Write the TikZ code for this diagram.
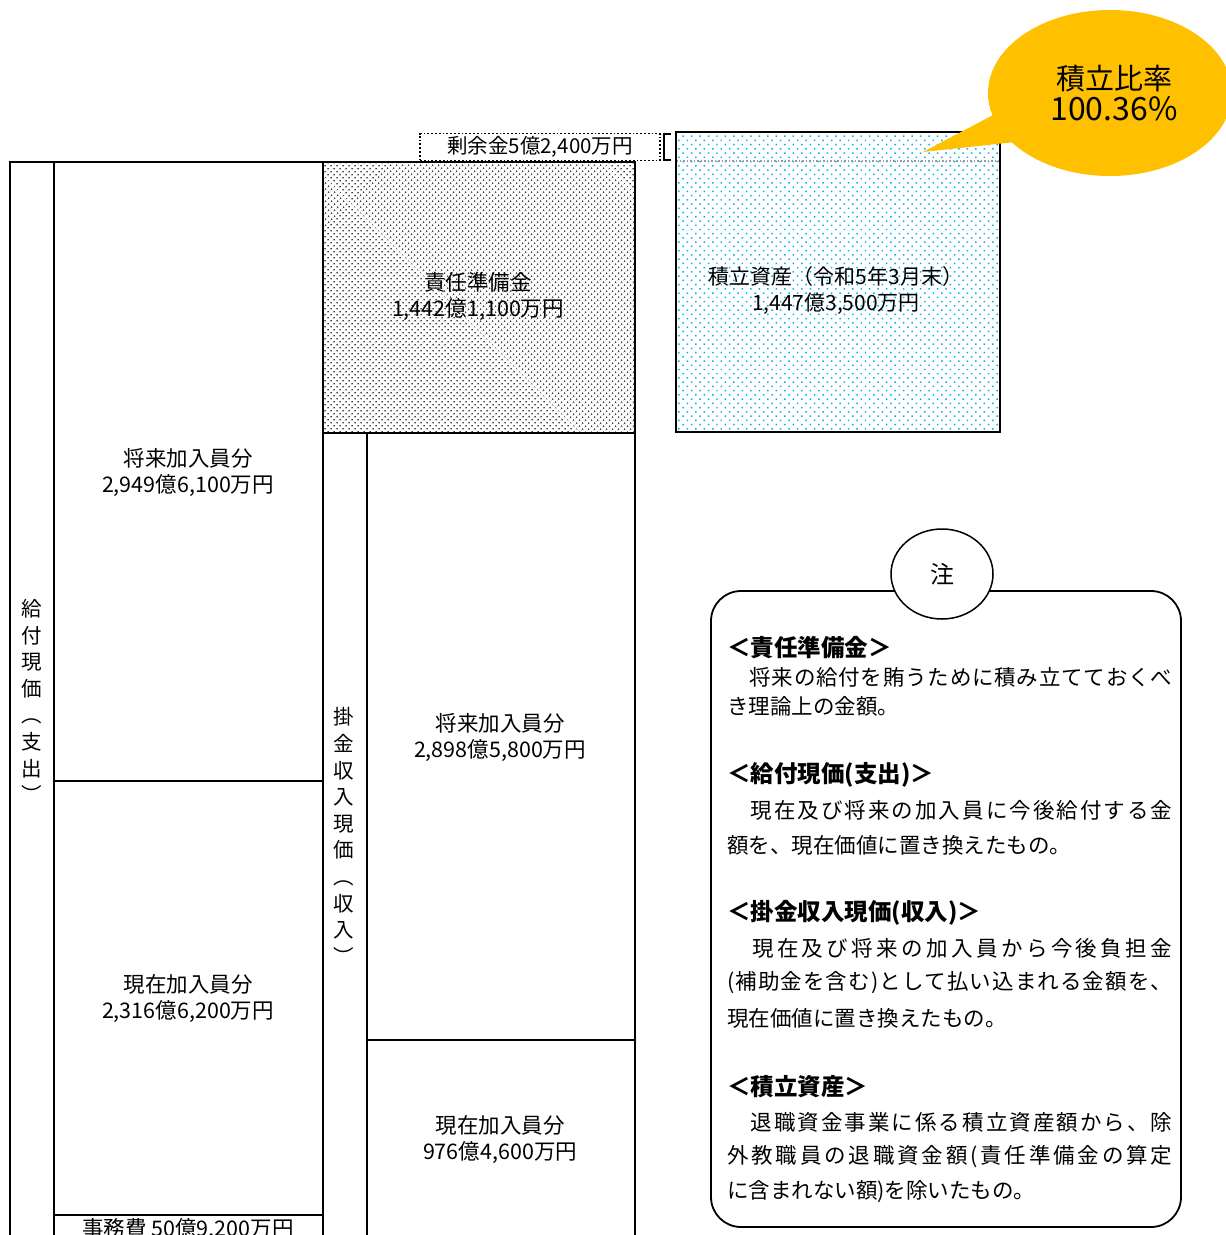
\documentclass[tikz,border=0pt]{standalone}
\usepackage{fontspec}
\setmainfont{Noto Sans CJK JP}
\usetikzlibrary{patterns.meta,shapes.geometric}

\definecolor{bubbleyellow}{RGB}{255,192,0}
\definecolor{dotblue}{RGB}{0,176,240}

% stretch one line of notes to a fixed width
\ExplSyntaxOn
\newcommand\spreadline[2]{\hbox_to_wd:nn {#1} {\tl_map_inline:nn {#2} {##1\hfil} \unskip}}
\ExplSyntaxOff

\tikzset{
  frame/.style={line width=1.8pt},
  lbl/.style={align=center, inner sep=0pt, font=\fontsize{21.5}{26}\selectfont},
  vlbl/.style={align=center, inner sep=0pt, font=\fontsize{20.5}{26.6}\selectfont},
  notehead/.style={anchor=west, inner sep=0pt, font=\fontsize{23.5}{26}\selectfont\bfseries},
  notetext/.style={anchor=west, inner sep=0pt, font=\fontsize{21.5}{26}\selectfont},
}

\begin{document}
\begin{tikzpicture}[x=1pt, y=-1pt]
  % page frame
  \useasboundingbox (0,0) rectangle (1226,1235);
  \clip (0,0) rectangle (1226,1235);

  % shaded areas
  \fill[pattern={Dots[distance=4pt, radius=0.95pt, angle=45]}, pattern color=black!75] (323,162) rectangle (635,433);
  \fill[pattern={Dots[distance=6pt, radius=1.05pt, angle=45]}, pattern color=dotblue] (676,132) rectangle (1000,432);

  % expenditure side
  \draw[frame] (10,1235) -- (10,162) -- (635,162) -- (635,1235);
  \draw[frame] (54,162) -- (54,1235);
  \draw[frame] (323,162) -- (323,1235);
  \draw[frame] (54,781) -- (323,781);
  \draw[frame] (54,1215) -- (323,1215);

  % income side
  \draw[frame] (323,433) -- (635,433);
  \draw[frame] (367,433) -- (367,1235);
  \draw[frame] (367,1040) -- (635,1040);

  % assets box
  \draw[gray!80, line width=1.5pt, dotted] (676,161) -- (1000,161);
  \draw[line width=2.8pt] (676,132) rectangle (1000,432);

  % surplus
  \node[draw, dotted, line width=1.8pt, minimum width=240pt, minimum height=27pt, inner sep=0pt, font=\fontsize{20.5}{22}\selectfont] (surplus) at (540,147) {剰余金5億2,400万円};
  \draw[line width=2.4pt] (671,134) -- (664,134) -- (664,160) -- (671,160);

  % box labels
  \node[lbl] (future) at (188,472) {将来加入員分\\2,949億6,100万円};
  \node[lbl] (current) at (188,998) {現在加入員分\\2,316億6,200万円};
  \node[lbl] (admin) at (188,1229) {事務費 50億9,200万円};
  \node[lbl] (reserve) at (478,296) {責任準備金\\1,442億1,100万円};
  \node[lbl] (futureinc) at (500,737) {将来加入員分\\2,898億5,800万円};
  \node[lbl] (currentinc) at (500,1139) {現在加入員分\\976億4,600万円};
  \node[lbl, font=\fontsize{21}{26}\selectfont] (assets) at (836,290) {積立資産（令和5年3月末）\\1,447億3,500万円};
  \node[vlbl] (benefit) at (32,701) {給\\付\\現\\価\\︵\\支\\出\\︶};
  \node[vlbl] (premium) at (344,836) {掛\\金\\収\\入\\現\\価\\︵\\収\\入\\︶};

  % funding ratio bubble
  \fill[bubbleyellow] (1110,93) ellipse [x radius=122, y radius=83];
  \fill[bubbleyellow] (923,152) -- (997,113) -- (1040,120) -- (1015,142) -- cycle;
  \node[align=center, inner sep=0pt, font=\fontsize{29}{31}\selectfont] (ratio) at (1114,93) {積立比率\\{\fontsize{32}{31}\selectfont 100.36\%}};

  % notes
  \draw[line width=1.8pt, rounded corners=30pt] (711,591) rectangle (1181,1227);
  \node[ellipse, draw, fill=white, line width=1.5pt, minimum width=102pt, minimum height=90pt, inner sep=0pt, font=\fontsize{24}{26}\selectfont] (notemark) at (942,574) {注};

  \node[notehead] (h1) at (727,648) {＜責任準備金＞};
  \node[notetext] (t1) at (727,677) {\spreadline{445pt}{　将来の給付を賄うために積み立てておくべ}};
  \node[notetext] (t2) at (727,706) {き理論上の金額。};

  \node[notehead] (h2) at (727,775) {＜給付現価(支出)＞};
  \node[notetext] (t3) at (727,810) {\spreadline{445pt}{　現在及び将来の加入員に今後給付する金}};
  \node[notetext] (t4) at (727,845) {額を、現在価値に置き換えたもの。};

  \node[notehead] (h3) at (727,913) {＜掛金収入現価(収入)＞};
  \node[notetext] (t5) at (727,948) {\spreadline{445pt}{　現在及び将来の加入員から今後負担金}};
  \node[notetext] (t6) at (727,983) {\spreadline{445pt}{(補助金を含む)として払い込まれる金額を、}};
  \node[notetext] (t7) at (727,1018) {現在価値に置き換えたもの。};

  \node[notehead] (h4) at (727,1087) {＜積立資産＞};
  \node[notetext] (t8) at (727,1122) {\spreadline{445pt}{　退職資金事業に係る積立資産額から、除}};
  \node[notetext] (t9) at (727,1157) {\spreadline{445pt}{外教職員の退職資金額(責任準備金の算定}};
  \node[notetext] (t10) at (727,1192) {に含まれない額)を除いたもの。};
\end{tikzpicture}
\end{document}
